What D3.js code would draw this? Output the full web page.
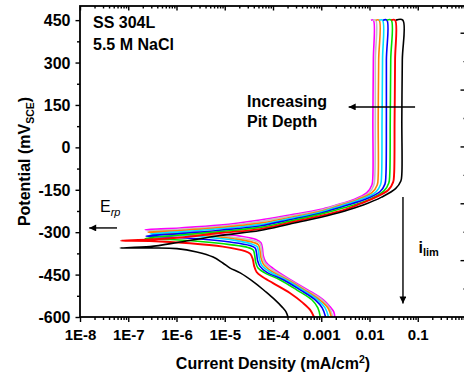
<!DOCTYPE html>
<html><head><meta charset="utf-8">
<script src="https://cdn.jsdelivr.net/npm/d3@7"></script>
<style>
html,body{margin:0;padding:0;background:#fff;}
svg{display:block;}
text{font-family:"Liberation Sans",Arial,sans-serif;}
</style></head><body>
<svg id="chart" width="464" height="379"></svg>
<script>
// ---------- data ----------
const xTickValues = [1e-8, 1e-7, 1e-6, 1e-5, 1e-4, 1e-3, 1e-2, 1e-1];
const xTickLabels = ["1E-8", "1E-7", "1E-6", "1E-5", "1E-4", "0.001", "0.01", "0.1"];
const yTickValues = [-600, -450, -300, -150, 0, 150, 300, 450];
const yTickLabels = ["-600", "-450", "-300", "-150", "0", "150", "300", "450"];
const seriesColors = ["#ff00ff", "#c0c0c0", "#ff8000", "#00e0ff", "#0000ff", "#00e000", "#ff0000", "#000000"];

// each point: [log10 current density (mA/cm2), potential (mV SCE)]
const magenta = [[-2.72,-600],[-2.74,-582],[-2.82,-563],[-2.95,-540],[-3.28,-504],[-3.63,-469],[-4.00,-428],[-4.15,-405],[-4.20,-384],[-4.22,-356],[-4.25,-337],[-4.35,-326],[-4.68,-314],[-5.31,-303],[-6.03,-294],[-6.65,-291],
  [-5.93,-285],[-5.10,-275],[-4.27,-257],[-3.65,-239],[-3.03,-220],[-2.69,-204],[-2.35,-186],[-2.06,-161],[-1.95,-133],[-1.93,-101],[-1.93,97],[-1.92,309],[-1.92,450],[-1.97,450]];
const gray = [[-2.76,-600],[-2.83,-568],[-2.98,-540],[-3.32,-504],[-3.66,-469],[-4.02,-432],[-4.17,-409],[-4.22,-386],[-4.24,-359],[-4.27,-340],[-4.37,-331],[-4.79,-319],[-5.41,-306],[-6.03,-299],[-6.61,-296],
  [-5.93,-290],[-5.10,-279],[-4.27,-262],[-3.65,-243],[-3.03,-223],[-2.66,-204],[-2.30,-186],[-2.01,-161],[-1.91,-133],[-1.89,-101],[-1.88,97],[-1.88,309],[-1.87,450],[-1.93,450]];
const orange = [[-2.79,-600],[-2.86,-568],[-3.03,-540],[-3.35,-504],[-3.69,-469],[-4.05,-436],[-4.20,-413],[-4.25,-390],[-4.27,-365],[-4.30,-345],[-4.39,-337],[-4.79,-324],[-5.41,-312],[-6.03,-305],[-6.59,-300],
  [-5.93,-294],[-5.10,-284],[-4.27,-268],[-3.65,-248],[-3.03,-227],[-2.63,-206],[-2.24,-184],[-1.95,-160],[-1.84,-133],[-1.82,-101],[-1.82,97],[-1.81,309],[-1.80,450],[-1.87,450]];
const cyan = [[-2.85,-600],[-2.92,-568],[-3.07,-540],[-3.39,-504],[-3.73,-469],[-4.08,-439],[-4.23,-418],[-4.28,-395],[-4.30,-370],[-4.33,-351],[-4.44,-342],[-4.79,-329],[-5.41,-317],[-6.03,-310],[-6.55,-306],
  [-5.93,-299],[-5.10,-288],[-4.27,-273],[-3.65,-252],[-3.03,-230],[-2.59,-207],[-2.16,-183],[-1.87,-158],[-1.77,-131],[-1.75,-100],[-1.74,97],[-1.73,309],[-1.73,450],[-1.80,450]];
const blue = [[-2.91,-600],[-2.98,-568],[-3.12,-540],[-3.44,-504],[-3.78,-469],[-4.12,-443],[-4.27,-421],[-4.32,-400],[-4.34,-375],[-4.37,-356],[-4.48,-347],[-4.89,-335],[-5.51,-324],[-6.13,-317],[-6.63,-314],
  [-5.93,-305],[-5.10,-293],[-4.27,-278],[-3.65,-256],[-3.03,-234],[-2.55,-209],[-2.07,-183],[-1.78,-156],[-1.68,-130],[-1.66,-98],[-1.65,97],[-1.65,309],[-1.64,450],[-1.72,450]];
const green = [[-3.02,-600],[-3.07,-568],[-3.19,-540],[-3.51,-504],[-3.85,-469],[-4.17,-444],[-4.31,-427],[-4.36,-405],[-4.38,-381],[-4.41,-363],[-4.52,-354],[-4.89,-344],[-5.51,-333],[-6.13,-326],[-6.65,-322],
  [-5.93,-310],[-5.10,-298],[-4.27,-283],[-3.65,-261],[-3.03,-237],[-2.51,-213],[-1.99,-183],[-1.70,-154],[-1.60,-126],[-1.58,-94],[-1.57,97],[-1.56,309],[-1.55,450],[-1.64,450]];
const red = [[-3.15,-600],[-3.23,-575],[-3.38,-550],[-3.65,-515],[-4.00,-480],[-4.23,-457],[-4.34,-441],[-4.39,-420],[-4.42,-395],[-4.47,-377],[-4.58,-367],[-5.04,-351],[-5.72,-339],[-6.55,-331],[-7.15,-330],
  [-6.55,-326],[-5.93,-319],[-5.10,-303],[-4.27,-289],[-3.65,-266],[-3.03,-243],[-2.51,-220],[-2.20,-200],[-1.90,-179],[-1.61,-151],[-1.51,-123],[-1.49,-94],[-1.48,97],[-1.47,309],[-1.47,450],[-1.55,450]];
const black = [[-3.69,-600],[-3.73,-582],[-3.81,-565],[-3.98,-536],[-4.17,-508],[-4.37,-480],[-4.68,-444],[-4.89,-427],[-5.04,-409],[-5.24,-388],[-5.58,-370],[-5.99,-358],[-6.55,-356],[-7.17,-356],
  [-6.55,-351],[-5.93,-335],[-5.10,-312],[-4.27,-294],[-3.65,-271],[-3.03,-248],[-2.51,-225],[-2.13,-204],[-1.75,-176],[-1.46,-146],[-1.35,-119],[-1.33,-94],[-1.33,97],[-1.32,309],[-1.31,450],[-1.45,450]];
const curves = [magenta, gray, orange, cyan, blue, green, red, black];

// ---------- layout ----------
const L = 80, R = 466, T = 6, B = 317;
const svg = d3.select("#chart");
const x = d3.scaleLog().domain([1e-8, 1]).range([L, R]);
const y = d3.scaleLinear().domain([-600, 500]).range([B, T]);
const yR = d3.scaleLinear().domain([0, 5.47]).range([B, T]);

const xMinor = [];
for (let e = -8; e < 0; e++) for (let m = 2; m <= 9; m++) xMinor.push(m * Math.pow(10, e));
const yMinor = yTickValues.slice(0, -1).map(v => v + 75).concat([525]).filter(v => v < 500);

const defs = svg.append("defs");
defs.append("clipPath").attr("id", "clip").append("rect")
  .attr("x", L).attr("y", T - 2).attr("width", R - L).attr("height", B - T + 2);
defs.append("marker").attr("id", "ah").attr("viewBox", "0 0 10 10")
  .attr("refX", 10).attr("refY", 5).attr("markerWidth", 9).attr("markerHeight", 7)
  .attr("markerUnits", "userSpaceOnUse").attr("orient", "auto")
  .append("path").attr("d", "M0,0L10,5L0,10Z").attr("fill", "#000");

// curves
const line = d3.line()
  .x(d => x(Math.pow(10, d[0])))
  .y(d => y(d[1]))
  .curve(d3.curveCatmullRom.alpha(0.5));
svg.append("g").attr("clip-path", "url(#clip)")
  .selectAll("path").data(curves).join("path")
  .attr("d", line)
  .attr("fill", "none")
  .attr("stroke", (d, i) => seriesColors[i])
  .attr("stroke-width", (d, i) => i === 6 ? 1.9 : 1.6)
  .attr("stroke-linejoin", "round");

// axes
function styleAxis(g) {
  g.select(".domain").remove();
  g.selectAll("line").attr("stroke", "#000").attr("stroke-width", 1.4);
}
// bottom
svg.append("g").attr("transform", `translate(0,${B})`)
  .call(d3.axisBottom(x).tickValues(xMinor).tickSize(3).tickFormat(""))
  .call(styleAxis);
const gxb = svg.append("g").attr("transform", `translate(0,${B})`)
  .call(d3.axisBottom(x).tickValues(xTickValues).tickSize(5)
    .tickFormat((d, i) => xTickLabels[i]))
  .call(styleAxis);
gxb.selectAll("text").attr("y", 23).attr("dy", 0)
  .attr("font-size", 15).attr("font-weight", "bold").attr("fill", "#000")
  .attr("font-family", "'Liberation Sans', Arial, sans-serif");
// top
svg.append("g").attr("transform", `translate(0,${T})`)
  .call(d3.axisBottom(x).tickValues(xMinor).tickSize(2.5).tickFormat(""))
  .call(styleAxis);
svg.append("g").attr("transform", `translate(0,${T})`)
  .call(d3.axisBottom(x).tickValues(xTickValues).tickSize(4.5).tickFormat(""))
  .call(styleAxis);
// left
svg.append("g").attr("transform", `translate(${L},0)`)
  .call(d3.axisLeft(y).tickValues(yMinor).tickSize(3).tickFormat(""))
  .call(styleAxis);
const gyl = svg.append("g").attr("transform", `translate(${L},0)`)
  .call(d3.axisLeft(y).tickValues(yTickValues).tickSize(4.5).tickPadding(5)
    .tickFormat((d, i) => yTickLabels[i]))
  .call(styleAxis);
gyl.selectAll("text").attr("dy", "0.35em")
  .attr("font-size", 16).attr("font-weight", "bold").attr("fill", "#000")
  .attr("font-family", "'Liberation Sans', Arial, sans-serif");
// right (unlabelled)
svg.append("g").attr("transform", `translate(${R},0)`)
  .call(d3.axisLeft(yR).tickValues([0.5, 1.5, 2.5, 3.5, 4.5]).tickSize(2.5).tickFormat(""))
  .call(styleAxis);
svg.append("g").attr("transform", `translate(${R},0)`)
  .call(d3.axisLeft(yR).tickValues([1, 2, 3, 4, 5]).tickSize(5.5).tickFormat(""))
  .call(styleAxis);

// frame
svg.append("rect").attr("x", L).attr("y", T).attr("width", R - L).attr("height", B - T)
  .attr("fill", "none").attr("stroke", "#000").attr("stroke-width", 1.8);

// axis titles
const xt = svg.append("text").attr("x", (L + R) / 2).attr("y", 369)
  .attr("text-anchor", "middle").attr("font-size", 16).attr("font-weight", "bold");
xt.append("tspan").text("Current Density (mA/cm");
xt.append("tspan").attr("dy", -6).attr("font-size", 10.5).text("2");
xt.append("tspan").attr("dy", 6).text(")");

const yt = svg.append("text").attr("transform", `translate(30,${(T + B) / 2}) rotate(-90)`)
  .attr("text-anchor", "middle").attr("font-size", 16).attr("font-weight", "bold");
yt.append("tspan").text("Potential (mV");
yt.append("tspan").attr("dy", 4).attr("font-size", 10.5).text("SCE");
yt.append("tspan").attr("dy", -4).text(")");

// annotations
const ann = svg.append("g").attr("font-weight", "bold").attr("font-size", 16);
ann.append("text").attr("x", 93).attr("y", 28).text("SS 304L");
ann.append("text").attr("x", 93).attr("y", 50).text("5.5 M NaCl");
ann.append("text").attr("x", 247).attr("y", 107).text("Increasing");
ann.append("text").attr("x", 247).attr("y", 126.5).text("Pit Depth");

const er = svg.append("text").attr("x", 100).attr("y", 212).attr("font-size", 16);
er.append("tspan").text("E");
er.append("tspan").attr("dy", 3.5).attr("font-size", 11).attr("font-style", "italic").text("rp");

const il = svg.append("text").attr("x", 418.5).attr("y", 252.5).attr("font-size", 16).attr("font-weight", "bold");
il.append("tspan").text("i");
il.append("tspan").attr("dy", 3.5).attr("font-size", 11).text("lim");

// arrows (positioned in data units)
function arrow(i1, e1, i2, e2) {
  svg.append("line")
    .attr("x1", x(i1)).attr("y1", y(e1)).attr("x2", x(i2)).attr("y2", y(e2))
    .attr("stroke", "#000").attr("stroke-width", 1.4).attr("marker-end", "url(#ah)");
}
arrow(0.088, 143, 0.0037, 143);        // increasing pit depth
arrow(5.85e-8, -285, 1.55e-8, -285);    // E_rp
arrow(0.0494, -176, 0.0494, -552);      // i_lim
</script>
</body></html>
